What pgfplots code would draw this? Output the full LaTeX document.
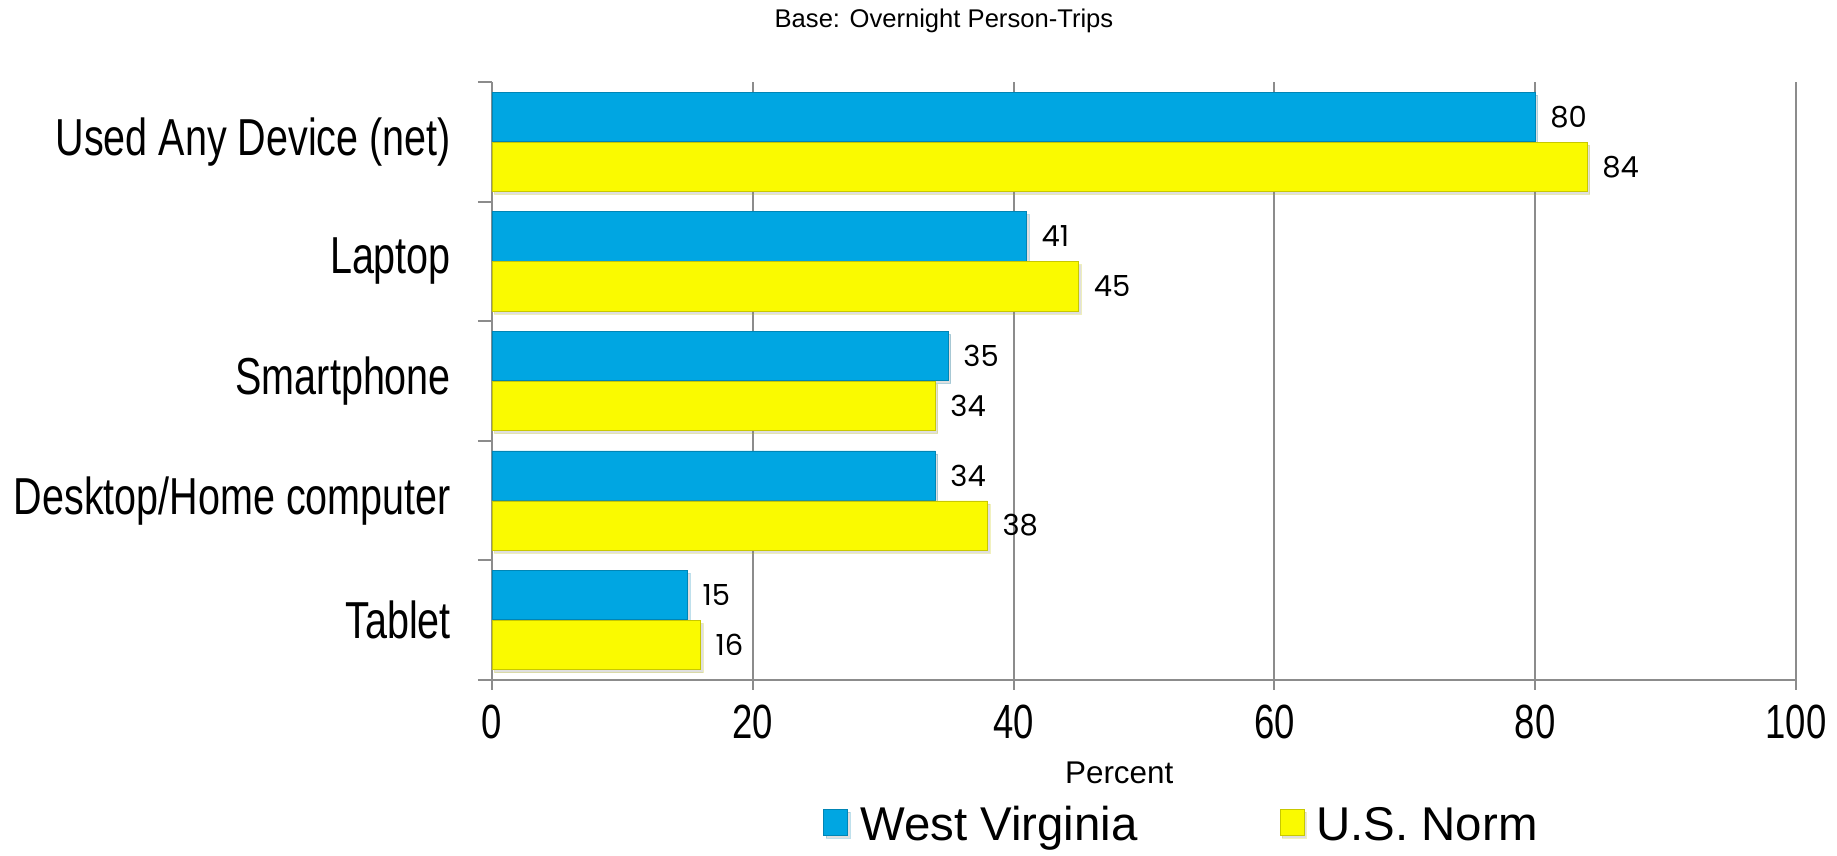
\documentclass[border=0pt]{standalone}
\usepackage{fontspec}
\setmainfont{Liberation Sans}
\newfontfamily\narrow[FakeStretch=0.76]{Liberation Sans}
\newfontfamily\labfont{Poppins}
\usepackage{pgfplots}
\usepackage{pgfplotstable}
\usetikzlibrary{shadows}
\pgfplotsset{compat=1.18}
\definecolor{wvblue}{RGB}{0,166,226}
\definecolor{usyellow}{RGB}{250,250,0}
\definecolor{gridgray}{RGB}{140,140,140}

\pgfplotstableread{
y wv us
4 80 84
3 41 45
2 35 34
1 34 38
0 15 16
}\datatable

\begin{document}
\begin{tikzpicture}
\useasboundingbox (-246pt,-88pt) rectangle (672.5pt,340pt);
\begin{axis}[
  scale only axis, width=652pt, height=299pt,
  clip=false,
  xbar, bar width=24.6pt,
  xmin=0, xmax=100, ymin=-0.5, ymax=4.5,
  xtick={0,20,...,100},
  ytick={0,...,4},
  yticklabels={Tablet, Desktop/Home computer, Smartphone, Laptop, Used Any Device (net)},
  minor ytick={-0.5,0.5,...,4.5},
  axis x line*=bottom, axis y line*=left,
  axis line style={gridgray, line width=1pt},
  xmajorgrids, major grid style={gridgray, line width=1pt},
  tick align=outside,
  major tick length=5pt, minor tick length=7pt,
  major y tick style={draw=none},
  minor y tick style={gridgray, line width=1pt},
  major x tick style={gridgray, line width=1pt},
  xticklabel style={font=\narrow\fontsize{24}{24}\selectfont, yshift=-4pt},
  yticklabel style={font=\narrow\fontsize{26}{26}\selectfont, xshift=-12pt},
  /pgf/number format/assume math mode=true,
  nodes near coords,
  nodes near coords style={font=\labfont\fontsize{14.5}{14.5}\selectfont, anchor=west, xshift=4pt, text=black},
  legend style={at={(0.2538,-0.243)}, anchor=west, draw=none, legend columns=2,
    inner sep=0pt, nodes={inner sep=0pt},
    font=\fontsize{23.7}{24}\selectfont,
    /tikz/every odd column/.append style={column sep=6pt},
    /tikz/every even column/.append style={column sep=71pt}},
  legend image code/.code={\draw[#1] (0pt,-5pt) rectangle (12pt,8pt);},
]
\addplot[fill=wvblue, draw=wvblue!80!black, bar shift=12.5pt,
  drop shadow={shadow xshift=1.2pt, shadow yshift=-1.5pt, opacity=0.25}] table[x=wv,y=y]{\datatable};
\addplot[fill=usyellow, draw=usyellow!80!black, bar shift=-12.5pt,
  drop shadow={shadow xshift=1.2pt, shadow yshift=-1.5pt, opacity=0.25}] table[x=us,y=y]{\datatable};
\legend{West Virginia, U.S. Norm}
\node[font=\fontsize{12.8}{13}\selectfont] at (rel axis cs:0.3466,1.102) {Base: Overnight Person-Trips};
\node[font=\fontsize{15.7}{16}\selectfont] at (rel axis cs:0.481,-0.1555) {Percent};
\end{axis}
\end{tikzpicture}
\end{document}
